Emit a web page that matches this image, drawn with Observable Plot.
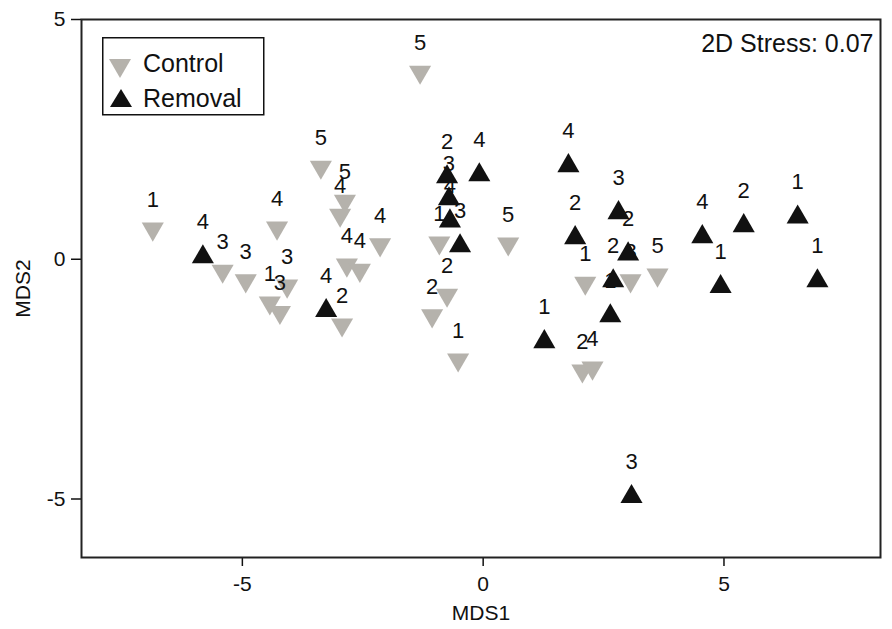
<!DOCTYPE html>
<html>
<head>
<meta charset="utf-8">
<script src="https://cdn.jsdelivr.net/npm/d3@7"></script>
<script src="https://cdn.jsdelivr.net/npm/@observablehq/plot@0.6"></script>
<style>
  body { margin: 0; background: #fff; font-family: "Liberation Sans", Arial, Helvetica, sans-serif; }
  #wrap { position: relative; width: 892px; height: 629px; }
  #legend { position: absolute; left: 102px; top: 37px; }
</style>
</head>
<body>
<div id="wrap"></div>
<script>
// ---- Data ----
const seriesNames = ["Control", "Removal"];
const seriesColors = ["#b5b2ac", "#111111"];

const controlMDS1 = [-6.86, -5.41, -4.93, -4.28, -4.43, -4.22, -4.07, -3.37, -2.87, -2.97, -2.83, -2.56, -2.14, -2.93, -1.31, -0.91, -0.75, -1.06, -0.52, 0.52, 2.12, 3.06, 3.62, 2.06, 2.27];
const controlMDS2 = [0.57, -0.31, -0.51, 0.59, -0.97, -1.17, -0.62, 1.86, 1.15, 0.86, -0.18, -0.29, 0.24, -1.43, 3.84, 0.28, -0.81, -1.24, -2.16, 0.26, -0.56, -0.51, -0.39, -2.39, -2.33];
const controlLabels = ["1", "3", "3", "4", "1", "3", "3", "5", "5", "4", "4", "4", "4", "2", "5", "1", "2", "2", "1", "5", "1", "3", "5", "2", "4"];

const removalMDS1 = [-5.82, -3.26, -0.75, -0.71, -0.69, -0.48, -0.08, 1.27, 1.77, 1.91, 2.81, 2.70, 2.64, 3.01, 4.55, 5.41, 6.53, 4.93, 6.94, 3.08];
const removalMDS2 = [0.11, -1.01, 1.78, 1.32, 0.86, 0.34, 1.82, -1.66, 2.01, 0.51, 1.03, -0.39, -1.12, 0.17, 0.53, 0.76, 0.94, -0.51, -0.39, -4.89];
const removalLabels = ["4", "4", "2", "3", "4", "3", "4", "1", "4", "2", "3", "2", "1", "2", "4", "2", "1", "1", "1", "3"];

const xTicks = [-5, 0, 5];
const yTicks = [-5, 0, 5];
const stressText = "2D Stress: 0.07";

// ---- Build tables ----
const control = controlMDS1.map((x, i) => ({ group: seriesNames[0], x, y: controlMDS2[i], label: controlLabels[i] }));
const removal = removalMDS1.map((x, i) => ({ group: seriesNames[1], x, y: removalMDS2[i], label: removalLabels[i] }));
const all = control.concat(removal);

const font = '"Liberation Sans", Arial, Helvetica, sans-serif';
const hyphen = d => String(d);

const plot = Plot.plot({
  width: 892,
  height: 629,
  marginLeft: 81,
  marginRight: 12,
  marginTop: 19,
  marginBottom: 72,
  x: { domain: [-8.34, 8.25] },
  y: { domain: [-6.22, 5] },
  style: { fontFamily: font, fontSize: "21px", color: "#111", background: "white" },
  marks: [
    Plot.axisX({ ticks: xTicks, tickFormat: hyphen, tickSize: 9, tickPadding: 10, strokeWidth: 1.5, label: "MDS1", labelAnchor: "center", labelOffset: 62, labelArrow: "none", fontSize: 21 }),
    Plot.axisY({ ticks: yTicks, tickFormat: hyphen, tickSize: 10, tickPadding: 6, strokeWidth: 1.5, label: "MDS2", labelAnchor: "center", labelOffset: 66, labelArrow: "none", fontSize: 21 }),
    Plot.frame({ stroke: "#222", strokeWidth: 2 }),
    Plot.dot(control, { x: "x", y: "y", symbol: "triangle", r: 8.2, fill: seriesColors[0], rotate: 180, dy: -3 }),
    Plot.text(all, { x: "x", y: "y", text: "label", dy: -32, fontSize: 22, fill: "#111" }),
    Plot.dot(removal, { x: "x", y: "y", symbol: "triangle", r: 8.2, fill: seriesColors[1], dy: 3 }),
    Plot.text([stressText], { text: d => d, frameAnchor: "top-right", textAnchor: "end", lineAnchor: "top", dx: -7, dy: 15, fontSize: 25, fill: "#111" })
  ]
});

const wrap = document.getElementById("wrap");
wrap.appendChild(plot);

// ---- Legend (inside the plot frame, top-left) ----
const lg = d3.select(wrap).append("svg")
  .attr("id", "legend")
  .attr("width", 163).attr("height", 79);
lg.append("rect").attr("x", 0.75).attr("y", 0.75).attr("width", 161).attr("height", 77)
  .attr("fill", "white").attr("stroke", "#111").attr("stroke-width", 1.5);
const rows = [
  { name: seriesNames[0], color: seriesColors[0], path: "M7,22 L29,22 L18,41 Z", base: 35 },
  { name: seriesNames[1], color: seriesColors[1], path: "M19,52 L30,70 L8,70 Z", base: 70 }
];
rows.forEach(r => {
  lg.append("path").attr("d", r.path).attr("fill", r.color);
  lg.append("text").attr("x", 41).attr("y", r.base).text(r.name)
    .attr("font-family", font).attr("font-size", 25).attr("fill", "#111");
});
</script>
</body>
</html>
